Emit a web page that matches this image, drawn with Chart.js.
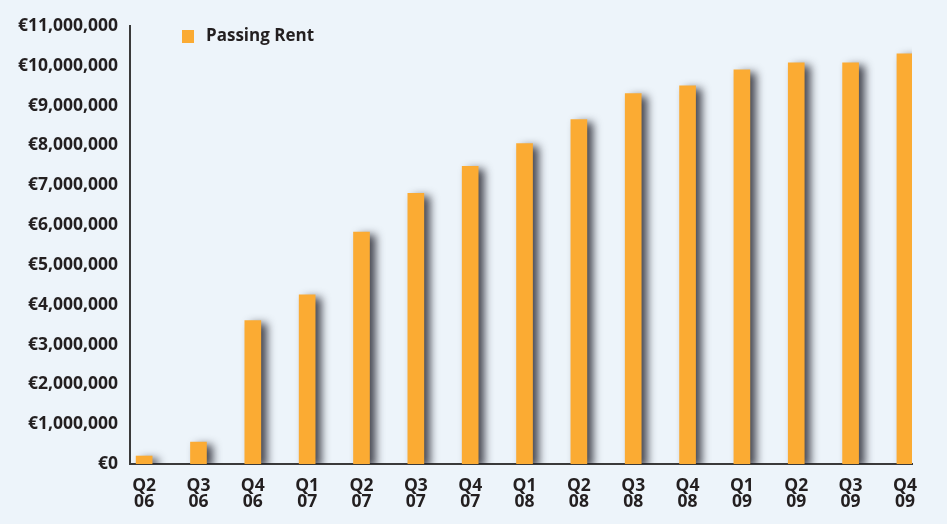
<!DOCTYPE html>
<html>
<head>
<meta charset="utf-8">
<script src="https://cdn.jsdelivr.net/npm/chart.js@4/dist/chart.umd.min.js"></script>
<style>
  html, body { margin: 0; padding: 0; background: #edf4fa; }
  #wrap { width: 947px; height: 524px; }
</style>
</head>
<body>
<div id="wrap"><canvas id="rentChart" width="947" height="524"></canvas></div>
<script>
// Quarter labels (quarter, year) and passing rent values in euro
const quarters = ['Q2', 'Q3', 'Q4', 'Q1', 'Q2', 'Q3', 'Q4', 'Q1', 'Q2', 'Q3', 'Q4', 'Q1', 'Q2', 'Q3', 'Q4'];
const years = ['06', '06', '06', '07', '07', '07', '07', '08', '08', '08', '08', '09', '09', '09', '09'];
const passingRent = [200000, 550000, 3600000, 4250000, 5825000, 6800000, 7475000, 8050000, 8650000, 9300000, 9500000, 9900000, 10075000, 10075000, 10300000];
const yTicks = [0, 1000000, 2000000, 3000000, 4000000, 5000000, 6000000, 7000000, 8000000, 9000000, 10000000, 11000000];

const barColor = '#fbab33';
const textColor = '#231f20';
const font = { family: '"Open Sans", sans-serif', weight: 'bold', size: 17.5 };

// bars are placed on a linear x scale using their index
const points = passingRent.map((v, i) => ({ x: i, y: v }));

// drop shadow behind the bars
const shadowPlugin = {
    id: 'barShadow',
    beforeDatasetsDraw(chart) {
        const ctx = chart.ctx;
        ctx.save();
        ctx.shadowColor = 'rgba(30, 30, 40, 0.8)';
        ctx.shadowBlur = 8;
        ctx.shadowOffsetX = 6;
        ctx.shadowOffsetY = 3;
    },
    afterDatasetsDraw(chart) {
        chart.ctx.restore();
    }
};

// legend drawn inside the plot area
const innerLegend = {
    id: 'innerLegend',
    afterDraw(chart) {
        const ctx = chart.ctx;
        const ds = chart.data.datasets[0];
        ctx.save();
        ctx.fillStyle = ds.backgroundColor;
        ctx.fillRect(182, 30, 12, 13);
        ctx.fillStyle = textColor;
        ctx.font = 'bold 17px "Open Sans", sans-serif';
        ctx.textBaseline = 'middle';
        ctx.fillText(ds.label, 206, 36);
        ctx.restore();
    }
};

new Chart(document.getElementById('rentChart').getContext('2d'), {
    type: 'bar',
    data: {
        datasets: [{
            label: 'Passing Rent',
            data: points,
            backgroundColor: barColor,
            borderWidth: 0,
            barThickness: 16
        }]
    },
    options: {
        responsive: false,
        animation: false,
        layout: { padding: { top: 26, right: 35, left: 0, bottom: 0 } },
        plugins: {
            legend: { display: false },
            tooltip: { enabled: false }
        },
        scales: {
            x: {
                type: 'linear',
                min: -0.26,
                max: 14.13,
                offset: false,
                grid: { display: false, drawTicks: false },
                border: { color: '#3a3a3a', width: 2 },
                afterBuildTicks(scale) {
                    scale.ticks = quarters.map((q, i) => ({ value: i }));
                },
                afterFit(scale) { scale.height = 60; },
                ticks: {
                    autoSkip: false,
                    maxRotation: 0,
                    padding: 14,
                    color: textColor,
                    font: Object.assign({}, font, { lineHeight: '16px' }),
                    callback: (value) => [quarters[value], years[value]]
                }
            },
            y: {
                min: 0,
                max: 11000000,
                grid: { display: false, drawTicks: false },
                border: { color: '#3a3a3a', width: 2 },
                afterBuildTicks(scale) {
                    scale.ticks = yTicks.map(v => ({ value: v }));
                },
                afterFit(scale) { scale.width = 130; },
                ticks: {
                    padding: 12,
                    color: textColor,
                    font: font,
                    callback: (value) => '€' + value.toLocaleString('en-US')
                }
            }
        }
    },
    plugins: [shadowPlugin, innerLegend]
});
</script>
</body>
</html>
